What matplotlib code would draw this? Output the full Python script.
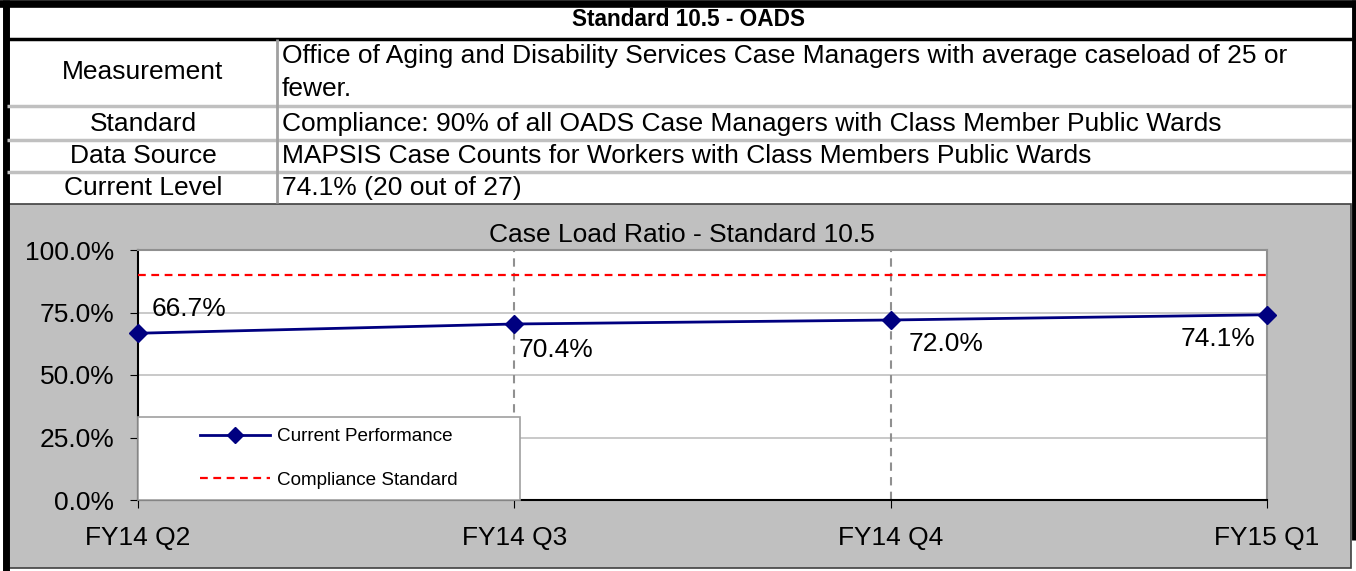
import matplotlib
matplotlib.use("Agg")
import matplotlib.pyplot as plt
from matplotlib.lines import Line2D
from matplotlib.patches import Rectangle
from matplotlib.ticker import PercentFormatter

plt.rcParams['font.family'] = ['Liberation Sans', 'DejaVu Sans']

# ---- data ----
quarters = ["FY14 Q2", "FY14 Q3", "FY14 Q4", "FY15 Q1"]
performance = [66.7, 70.4, 72.0, 74.1]
standard = [90, 90, 90, 90]
yticks = [0, 25, 50, 75, 100]

table_title = "Standard 10.5 - OADS"
row_labels = ["Measurement", "Standard", "Data Source", "Current Level"]
row_values = [
    "Office of Aging and Disability Services Case Managers with average caseload of 25 or\nfewer.",
    "Compliance: 90% of all OADS Case Managers with Class Member Public Wards",
    "MAPSIS Case Counts for Workers with Class Members Public Wards",
    "74.1% (20 out of 27)",
]
chart_title = "Case Load Ratio - Standard 10.5"

W, H = 1356, 571
fig = plt.figure(figsize=(W / 100, H / 100), dpi=100)
fig.patch.set_facecolor("white")

# background / table axes in pixel coordinates
bg = fig.add_axes([0, 0, 1, 1])
bg.set_xlim(0, W)
bg.set_ylim(H, 0)
bg.axis("off")

# gray chart region
bg.add_patch(Rectangle((7, 204), 1344, 364, facecolor="#c0c0c0",
                       edgecolor="#404040", linewidth=1.2))
# outer borders
bg.plot([6, 6], [0, H], color="black", linewidth=5, solid_capstyle="butt")
bg.plot([0, 1356], [4, 4], color="black", linewidth=5.5, solid_capstyle="butt")
bg.plot([1353.5, 1353.5], [0, 540], color="black", linewidth=3.5, solid_capstyle="butt")
bg.plot([7, 1352], [38.5, 38.5], color="black", linewidth=2.5, solid_capstyle="butt")
# gray row separators
for yy in [106, 140, 172]:
    bg.plot([7, 1351], [yy, yy], color="#c0c0c0", linewidth=2.5, solid_capstyle="butt")
bg.plot([277, 277], [39, 203], color="#a0a0a0", linewidth=2, solid_capstyle="butt")

fs = 19
bg.text(689, 20, table_title, ha="center", va="center", fontsize=16.3, fontweight="bold")
label_y = [72, 124, 156, 188]
for lab, val, yy in zip(row_labels, row_values, label_y):
    bg.text(143, yy, lab, ha="center", va="center", fontsize=fs)
    if "\n" in val:
        l1, l2 = val.split("\n")
        bg.text(282, 56, l1, ha="left", va="center", fontsize=fs)
        bg.text(282, 89, l2, ha="left", va="center", fontsize=fs)
    else:
        bg.text(282, yy, val, ha="left", va="center", fontsize=fs)

bg.text(682, 235, chart_title, ha="center", va="center", fontsize=fs)

# ---- chart axes ----
left, right, top, bottom = 138, 1267, 250, 500
ax = fig.add_axes([left / W, (H - bottom) / H, (right - left) / W, (bottom - top) / H])
ax.set_facecolor("white")
x = list(range(len(quarters)))
ax.set_xlim(0, len(quarters) - 1)
ax.set_ylim(0, 100)
ax.set_yticks(yticks)
ax.yaxis.set_major_formatter(PercentFormatter(decimals=1))
ax.set_xticks(x)
ax.set_xticklabels(quarters)
ax.tick_params(axis="both", labelsize=fs, direction="out", length=6, color="black")
ax.tick_params(axis="x", pad=13)
ax.tick_params(axis="y", pad=11)

for yv in yticks[1:-1]:
    ax.axhline(yv, color="#c0c0c0", linewidth=1.2, zorder=1)
for xv in x[1:-1]:
    ax.axvline(xv, color="#909090", linewidth=1.5, linestyle=(0, (4, 3)), zorder=1)

ax.spines["left"].set_color("black")
ax.spines["bottom"].set_color("black")
ax.spines["left"].set_linewidth(1.5)
ax.spines["bottom"].set_linewidth(1.5)
ax.spines["top"].set_color("#909090")
ax.spines["right"].set_color("#909090")
ax.spines["top"].set_linewidth(1.5)
ax.spines["right"].set_linewidth(1.5)

ax.plot(x, standard, color="#ff0000", linestyle=(0, (3.5, 2.5)), linewidth=1.6, zorder=3,
        label="Compliance Standard")
ax.plot(x, performance, color="#000080", linewidth=2, marker="D", markersize=9,
        zorder=4, clip_on=False, label="Current Performance")

# data labels
offsets = [(14, 12, "left", "bottom"), (4, -14, "left", "top"),
           (18, -12, "left", "top"), (-12, -12, "right", "top")]
for xi, yi, (dx, dy, ha, va) in zip(x, performance, offsets):
    ax.annotate(f"{yi:.1f}%", (xi, yi), xytext=(dx, dy), textcoords="offset pixels",
                ha=ha, va=va, fontsize=fs, zorder=5)

# legend box
lw_frac = (520 - left) / (right - left)
lh_frac = (500 - 417) / (bottom - top)
ax.add_patch(Rectangle((0, 0), lw_frac, lh_frac, transform=ax.transAxes,
                       facecolor="white", edgecolor="#a0a0a0", linewidth=1.2, zorder=6,
                       clip_on=False))
handles = [Line2D([0], [0], color="#000080", linewidth=2, marker="D", markersize=8),
           Line2D([0], [0], color="#ff0000", linestyle=(0, (3.5, 2.5)), linewidth=1.6)]
leg = ax.legend(handles, ["Current Performance", "Compliance Standard"],
                loc="center", bbox_to_anchor=(0, 0, lw_frac, lh_frac),
                fontsize=13.6, frameon=False, borderpad=0, labelspacing=1.4,
                handlelength=3.7, handletextpad=0.35, borderaxespad=0)
leg._legend_box.align = "left"
leg.set_zorder(7)

fig.savefig("out.png", dpi=100)
